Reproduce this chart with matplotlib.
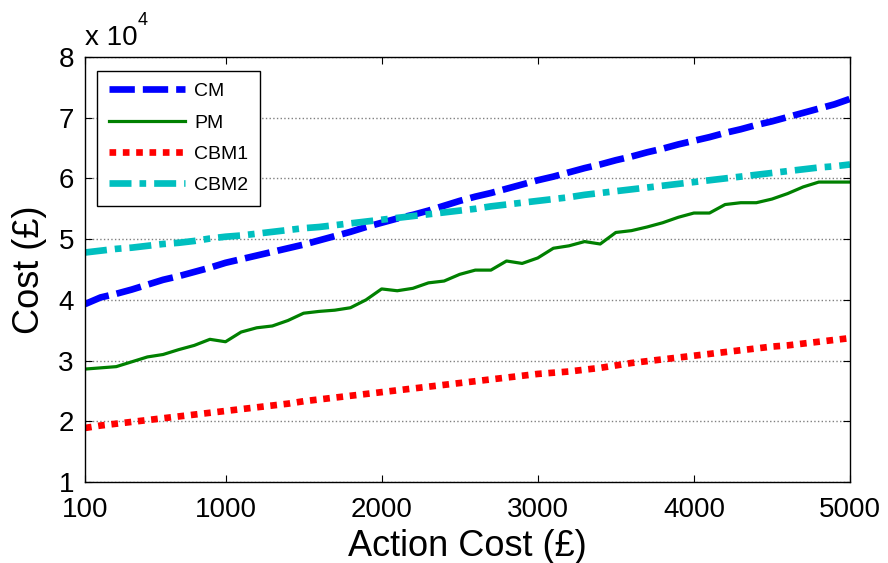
import matplotlib
matplotlib.use("Agg")
import matplotlib.pyplot as plt
import numpy as np

plt.rcParams['font.family'] = ['Liberation Sans', 'DejaVu Sans']

action_cost = list(range(100, 5001, 100))

cm = [3.93, 4.04, 4.10, 4.17, 4.25, 4.33, 4.39, 4.46, 4.53, 4.61,
      4.67, 4.73, 4.79, 4.85, 4.91, 4.98, 5.05, 5.12, 5.20, 5.27,
      5.34, 5.40, 5.47, 5.55, 5.63, 5.70, 5.76, 5.83, 5.90, 5.97,
      6.03, 6.10, 6.17, 6.23, 6.30, 6.36, 6.43, 6.49, 6.56, 6.62,
      6.68, 6.75, 6.81, 6.88, 6.94, 7.01, 7.08, 7.15, 7.22, 7.31]

pm = [2.86, 2.88, 2.90, 2.98, 3.06, 3.10, 3.18, 3.25, 3.35, 3.31,
      3.47, 3.54, 3.57, 3.66, 3.78, 3.81, 3.83, 3.87, 4.00, 4.18,
      4.15, 4.19, 4.28, 4.31, 4.42, 4.49, 4.49, 4.64, 4.60, 4.69,
      4.85, 4.89, 4.96, 4.92, 5.11, 5.14, 5.20, 5.27, 5.36, 5.43,
      5.43, 5.57, 5.60, 5.60, 5.66, 5.75, 5.86, 5.94, 5.94, 5.94]

cbm1 = [1.89, 1.93, 1.96, 1.99, 2.02, 2.05, 2.08, 2.11, 2.14, 2.17,
        2.20, 2.23, 2.26, 2.29, 2.33, 2.36, 2.39, 2.42, 2.45, 2.48,
        2.51, 2.54, 2.57, 2.60, 2.63, 2.66, 2.69, 2.72, 2.75, 2.78,
        2.80, 2.82, 2.85, 2.88, 2.92, 2.96, 2.99, 3.02, 3.05, 3.08,
        3.11, 3.14, 3.17, 3.20, 3.23, 3.25, 3.28, 3.31, 3.34, 3.37]

cbm2 = [4.78, 4.81, 4.84, 4.86, 4.89, 4.92, 4.94, 4.97, 5.01, 5.04,
        5.06, 5.09, 5.12, 5.15, 5.18, 5.20, 5.23, 5.26, 5.29, 5.32,
        5.35, 5.38, 5.41, 5.44, 5.47, 5.50, 5.54, 5.57, 5.60, 5.63,
        5.66, 5.69, 5.73, 5.76, 5.79, 5.82, 5.85, 5.88, 5.91, 5.94,
        5.97, 6.00, 6.03, 6.06, 6.09, 6.12, 6.15, 6.18, 6.20, 6.23]

x_ticks = [100, 1000, 2000, 3000, 4000, 5000]
y_ticks = [1, 2, 3, 4, 5, 6, 7, 8]

fig = plt.figure(figsize=(8.88, 5.63), dpi=100)
ax = fig.add_axes([85/888, 1-482/563, 765/888, 425/563])

ax.plot(action_cost, cm, color='#0000FF', lw=4.8, linestyle=(0, (3.8, 1.2)),
        dash_capstyle='butt', label='CM')
ax.plot(action_cost, pm, color='#008000', lw=2.3, label='PM')
ax.plot(action_cost, cbm1, color='#FF0000', lw=4.8, linestyle=(0, (1.0, 1.0)),
        dash_capstyle='butt', label='CBM1')
ax.plot(action_cost, cbm2, color='#00BFBF', lw=4.8, linestyle=(0, (3.3, 1.2, 1.0, 1.2)),
        dash_capstyle='butt', label='CBM2')

ax.set_xlim(100, 5000)
ax.set_ylim(1, 8)
ax.set_xticks(x_ticks)
ax.set_yticks(y_ticks)
ax.set_xticklabels([str(t) for t in x_ticks])
ax.set_yticklabels([str(t) for t in y_ticks])
ax.tick_params(direction='in', length=5, width=0.8, top=True, right=True,
               labelsize=20)
ax.tick_params(axis='x', pad=11)
ax.tick_params(axis='y', pad=8)
ax.yaxis.grid(True, linestyle=':', color='#808080', linewidth=1.0)
ax.set_axisbelow(True)
for s in ax.spines.values():
    s.set_linewidth(1.0)
    s.set_color('black')

ax.set_xlabel('Action Cost (£)', fontsize=26, labelpad=4)
ax.set_ylabel('Cost (£)', fontsize=26, labelpad=8)

fig.text(85/888, 1-45/563, 'x 10', fontsize=20, ha='left', va='baseline')
fig.text(138/888, 1-25/563, '4', fontsize=13, ha='left', va='baseline')

leg = ax.legend(loc='upper left', bbox_to_anchor=(0.0157, 0.967), borderaxespad=0,
                fancybox=False, edgecolor='black', framealpha=1, fontsize=14,
                handlelength=3.9, labelspacing=0.7, borderpad=0.6, handletextpad=0.5)
leg.get_frame().set_linewidth(1.0)

fig.savefig('out.png', dpi=100)
